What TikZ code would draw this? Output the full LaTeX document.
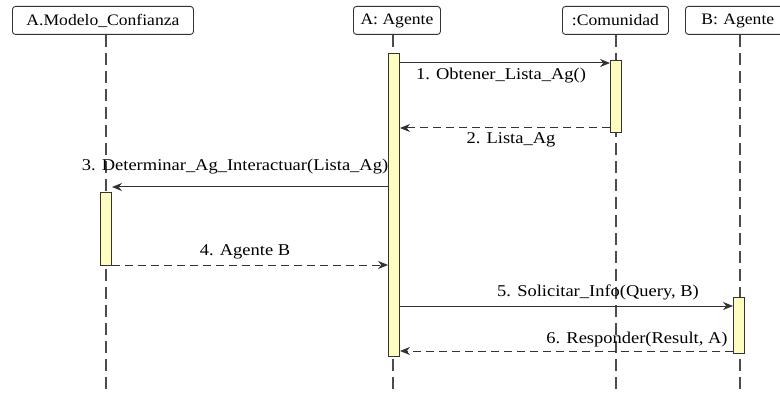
\documentclass[tikz,border=0pt]{standalone}
\usepackage{fontspec}
\setmainfont{Liberation Serif}[FakeStretch=1.12]
\newfontfamily\headfont{Liberation Serif}[FakeStretch=1.1]
\usetikzlibrary{arrows.meta}
\begin{document}
\begin{tikzpicture}[x=1pt,y=-1pt,
  font=\fontsize{16.5}{18}\selectfont,
  header/.style={draw=black!80, line width=0.9pt, rounded corners=3pt, fill=white,
    minimum height=28pt, inner xsep=4pt, anchor=north west,
    font=\headfont\fontsize{16}{18}\selectfont},
  lifeline/.style={draw=black!70, line width=1.3pt, dash pattern=on 12pt off 6pt},
  actbar/.style={draw=black!80, line width=1pt, fill=yellow!25, minimum width=11pt,
    inner sep=0pt, anchor=north},
  call/.style={draw=black!80, line width=1pt, -{Stealth[length=10pt,width=8pt]}},
  reply/.style={call, dash pattern=on 8pt off 5pt},
  msg/.style={inner sep=1pt}]
\clip (0,0) rectangle (780,393);
\fill[white] (0,0) rectangle (780,393);

% participants
\node[header, minimum width=181pt] (pm) at (12,6) {A.Modelo\_Confianza};
\node[header, minimum width=87pt]  (pa) at (353,6) {A: Agente};
\node[header, minimum width=106pt] (pc) at (562,6) {:Comunidad};
\node[header, minimum width=110pt, align=left, text width=94pt] (pb) at (685,6) {\hspace*{8pt}B: Agente};

% lifeline ends
\coordinate (em) at (106,393);
\coordinate (ea) at (393,393);
\coordinate (ec) at (616,393);
\coordinate (eb) at (740,393);

\draw[lifeline] (pm.south -| em) -- (em);
\draw[lifeline] (pa.south -| ea) -- (ea);
\draw[lifeline] (pc.south -| ec) -- (ec);
\draw[lifeline] (pb.south -| eb) -- (eb);

% activation bars
\node[actbar, minimum height=303pt] (ba) at (394,53) {};
\node[actbar, minimum height=72pt]  (bc) at (616,60) {};
\node[actbar, minimum height=73pt]  (bm) at (106,192) {};
\node[actbar, minimum height=56pt]  (bb) at (739,297) {};

% messages
\draw[call]  (ba.east |- 0,63)  -- (bc.west |- 0,63);
\node[msg] (l1) at (501,76) {1. Obtener\_Lista\_Ag()};

\draw[reply] (bc.west |- 0,128) -- (ba.east |- 0,128);
\node[msg] (l2) at (511,140) {2. Lista\_Ag};

\draw[call]  (ba.west |- 0,187) -- (bm.east |- 0,187);
\node[msg] (l3) at (235,167) {3. Determinar\_Ag\_Interactuar(Lista\_Ag)};

\draw[reply] (bm.east |- 0,265) -- (ba.west |- 0,265);
\node[msg] (l4) at (245,252) {4. Agente B};

\draw[call]  (ba.east |- 0,306) -- (bb.west |- 0,306);
\node[msg] (l5) at (598,292) {5. Solicitar\_Info(Query, B)};

\draw[reply] (bb.west |- 0,351) -- (ba.east |- 0,351);
\node[msg] (l6) at (637,340) {6. Responder(Result, A)};
\end{tikzpicture}
\end{document}
